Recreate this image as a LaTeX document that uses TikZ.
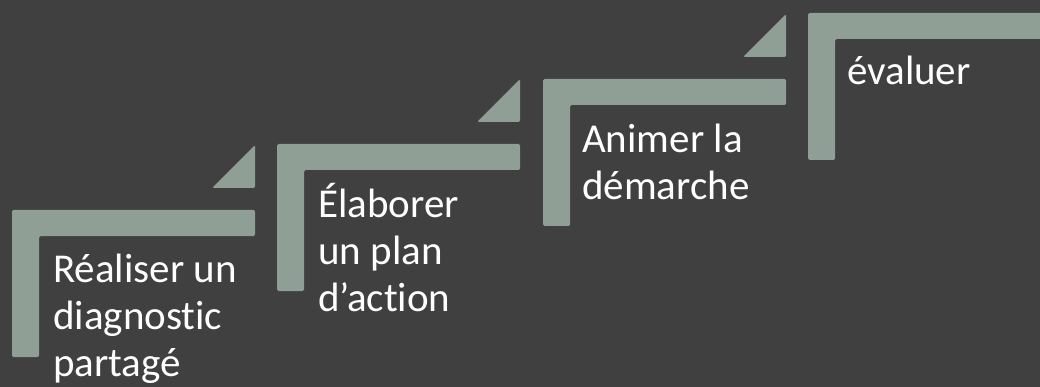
\documentclass[tikz,border=0pt]{standalone}
\usepackage{fontspec}
\setmainfont{Carlito}[Ligatures={NoCommon,NoRare,NoContextual}]
\usetikzlibrary{positioning,calc}
\definecolor{bg}{RGB}{64,64,64}
\definecolor{sage}{RGB}{143,159,150}
\colorlet{stepfill}{sage}
\tikzset{stepbar/.style={fill=stepfill,rounded corners=1.5pt}}
% base anchor of a multi-line node is on its last line
\tikzset{steptext/.style={anchor=base west,align=left,inner sep=0pt,text=white,font=\fontsize{41}{47}\selectfont}}

\begin{document}
\begin{tikzpicture}[x=1pt,y=-1pt]
            \useasboundingbox (0,0) rectangle (1040,387);
            \clip (0,0) rectangle (1040,387);
            \fill[bg] (0,0) rectangle (1040,387);
            \begin{scope}[shift={(12,210)}]
                \fill[stepbar] (0,0) -- (243,0) -- (243,26) -- (27,26) -- (27,147) -- (0,147) -- cycle;
                \fill[stepbar] (243,-22) -- (243,-65) -- (200,-22) -- cycle;
                \node[steptext] (diag) at (41,72+94) {Réaliser un\\diagnostic\\partagé};
            \end{scope}
            \begin{scope}[shift={(277,144)}]
                \fill[stepbar] (0,0) -- (243,0) -- (243,26) -- (27,26) -- (27,147) -- (0,147) -- cycle;
                \fill[stepbar] (243,-22) -- (243,-65) -- (200,-22) -- cycle;
                \node[steptext] (plan) at (41,73+94) {Élaborer\\un plan\\d’action};
            \end{scope}
            \begin{scope}[shift={(543,79)}]
                \fill[stepbar] (0,0) -- (243,0) -- (243,26) -- (27,26) -- (27,147) -- (0,147) -- cycle;
                \fill[stepbar] (243,-22) -- (243,-65) -- (200,-22) -- cycle;
                \node[steptext] (anim) at (39,74+47) {Animer la\\démarche};
            \end{scope}
            \begin{scope}[shift={(808,13)}]
                \fill[stepbar] (0,0) -- (243,0) -- (243,26) -- (27,26) -- (27,147) -- (0,147) -- cycle;
                \fill[stepbar] (243,-22) -- (243,-65) -- (200,-22) -- cycle;
                \node[steptext] (eval) at (39,72) {évaluer};
            \end{scope}
         \end{tikzpicture}
\end{document}
